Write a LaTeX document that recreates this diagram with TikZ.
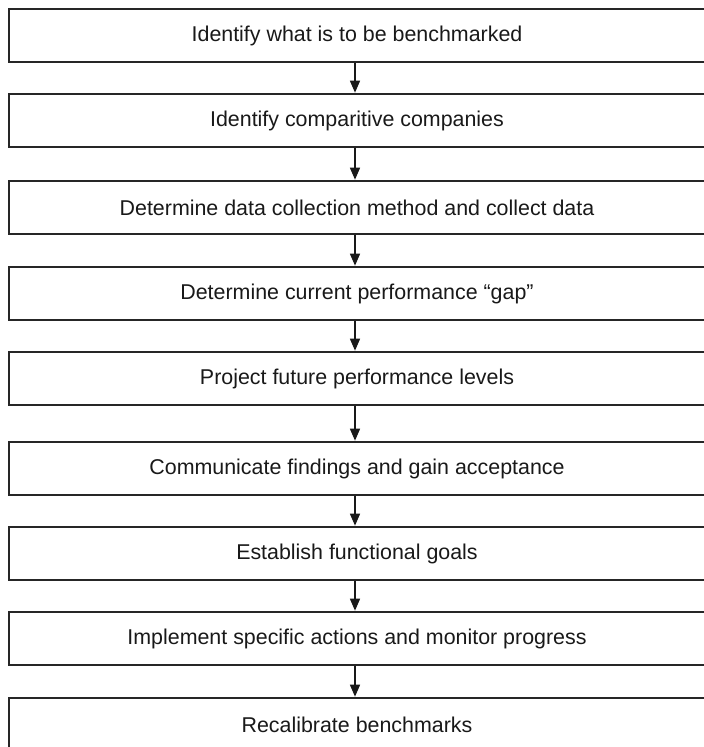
\documentclass[tikz,border=0pt]{standalone}
\usepackage{fontspec}
\setmainfont{Liberation Sans}
\usetikzlibrary{arrows.meta}
\begin{document}
\begin{tikzpicture}[x=1pt,y=1pt,
  stepbox/.style={draw=black!85, line width=1.6pt, minimum width=696pt, minimum height=53pt,
    inner sep=0pt, font=\fontsize{21.4}{25}\selectfont, text=black!90},
  arr/.style={line width=1.4pt, draw=black!90, -{Triangle[width=10pt,length=12pt]}, shorten >=0.5pt}]
\useasboundingbox (0,0) rectangle (704,747);
\fill[white] (0,0) rectangle (704,747);
\node[stepbox] (b1) at (357,711.5) {Identify what is to be benchmarked};
\node[stepbox] (b2) at (357,626.5) {Identify comparitive companies};
\node[stepbox] (b3) at (357,539.5) {Determine data collection method and collect data};
\node[stepbox] (b4) at (357,453.5) {Determine current performance ``gap''};
\node[stepbox] (b5) at (357,368.5) {Project future performance levels};
\node[stepbox] (b6) at (357,278.5) {Communicate findings and gain acceptance};
\node[stepbox] (b7) at (357,193.5) {Establish functional goals};
\node[stepbox] (b8) at (357,108.5) {Implement specific actions and monitor progress};
\node[stepbox] (b9) at (357,22.5) {Recalibrate benchmarks};
\foreach \a/\b in {b1/b2,b2/b3,b3/b4,b4/b5,b5/b6,b6/b7,b7/b8,b8/b9}
  \draw[arr] ([xshift=-2pt]\a.south) -- ([xshift=-2pt]\b.north);
\end{tikzpicture}
\end{document}
